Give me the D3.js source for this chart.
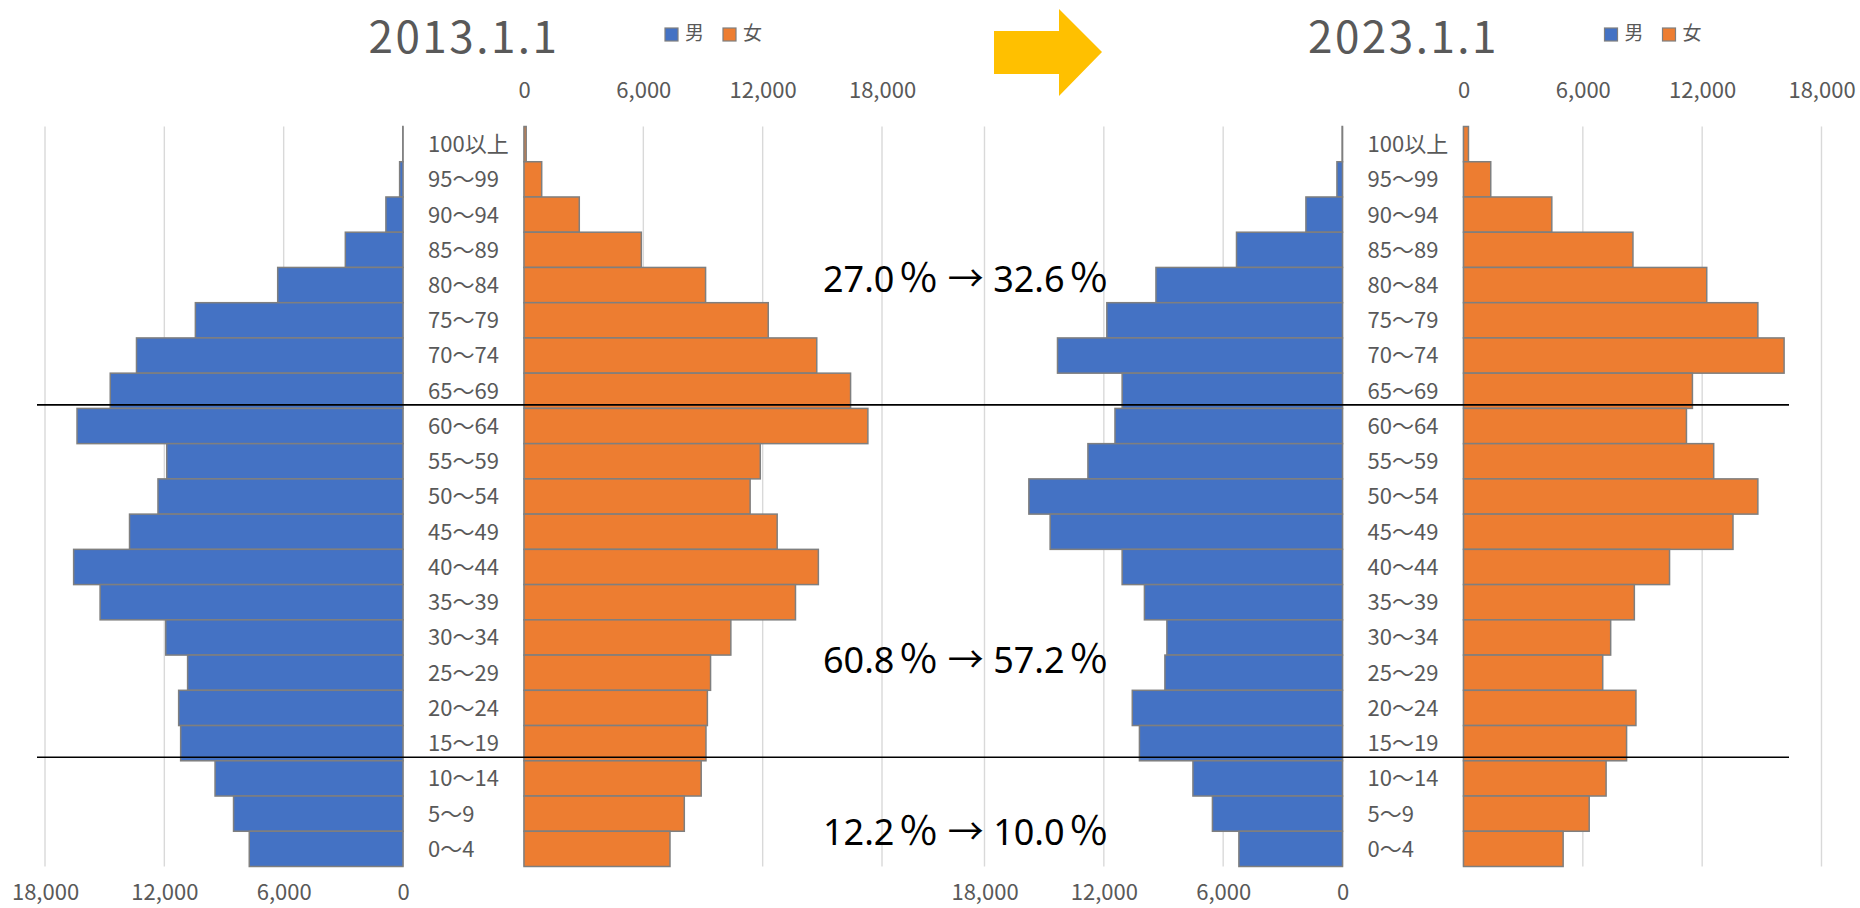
<!DOCTYPE html>
<html lang="ja">
<head>
<meta charset="utf-8">
<script src="https://cdn.jsdelivr.net/npm/d3@7/dist/d3.min.js"></script>
<style>
  html, body { margin: 0; padding: 0; background: #fff; }
  svg { display: block; }
</style>
</head>
<body>
<svg id="chart" width="1860" height="908"></svg>
<script>
// Age groups, oldest at the top
const ageGroups = ["100以上", "95～99", "90～94", "85～89", "80～84", "75～79", "70～74",
  "65～69", "60～64", "55～59", "50～54", "45～49", "40～44", "35～39", "30～34",
  "25～29", "20～24", "15～19", "10～14", "5～9", "0～4"];

// Population by age group (persons)
const male2013 = [10, 170, 860, 2900, 6300, 10440, 13400, 14720, 16390, 11880, 12320,
  13750, 16560, 15230, 11930, 10830, 11280, 11180, 9450, 8520, 7730];
const female2013 = [110, 890, 2780, 5900, 9130, 12280, 14720, 16420, 17290, 11880, 11370,
  12730, 14800, 13650, 10400, 9380, 9220, 9150, 8910, 8060, 7340];
const male2023 = [20, 280, 1840, 5330, 9380, 11850, 14330, 11080, 11440, 12800, 15770,
  14700, 11080, 9960, 8830, 8930, 10570, 10210, 7520, 6540, 5210];
const female2023 = [250, 1370, 4440, 8520, 12230, 14800, 16120, 11510, 11210, 12580, 14800,
  13550, 10360, 8590, 7400, 7000, 8670, 8200, 7170, 6320, 5010];

const tickValues = [0, 6000, 12000, 18000];
const panelTitles = ["2013.1.1", "2023.1.1"];
const legendLabels = ["男", "女"];
const shareLabels = ["27.0％ → 32.6％", "60.8％ → 57.2％", "12.2％ → 10.0％"];
// group boundaries: 65+ / 15–64 / 0–14 (drawn above the first group row below each)
const boundaryGroups = ["60～64", "10～14"];

const COLORS = { male: "#4472C4", female: "#ED7D31", edge: "#7F7F7F",
  grid: "#D9D9D9", axis: "#BFBFBF", text: "#595959", arrow: "#FFC000" };
const JP = "'Noto Sans CJK JP', 'Noto Sans', sans-serif";

const svg = d3.select("#chart");
svg.append("rect").attr("width", 1860).attr("height", 908).attr("fill", "#fff");

const y = d3.scaleBand().domain(ageGroups).range([126.5, 866.5]).padding(0);
const SPAN = 358;

function drawPanel(x0, title, male, female) {
  const maleZero = x0 + 403, femaleZero = x0 + 524;
  const xm = d3.scaleLinear().domain([0, 18000]).range([maleZero, maleZero - SPAN]);
  const xf = d3.scaleLinear().domain([0, 18000]).range([femaleZero, femaleZero + SPAN]);
  const g = svg.append("g");

  // vertical gridlines
  const [y0, y1] = y.range();
  g.selectAll(".gm").data(tickValues).join("line")
    .attr("x1", d => xm(d)).attr("x2", d => xm(d)).attr("y1", y0).attr("y2", y1)
    .attr("stroke", d => d === 0 ? COLORS.axis : COLORS.grid).attr("stroke-width", 1.4);
  g.selectAll(".gf").data(tickValues).join("line")
    .attr("x1", d => xf(d)).attr("x2", d => xf(d)).attr("y1", y0).attr("y2", y1)
    .attr("stroke", d => d === 0 ? COLORS.axis : COLORS.grid).attr("stroke-width", 1.4);

  // bars
  g.selectAll(".bm").data(ageGroups).join("rect")
    .attr("x", (d, i) => xm(male[i])).attr("y", d => y(d))
    .attr("width", (d, i) => xm(0) - xm(male[i])).attr("height", y.bandwidth())
    .attr("fill", COLORS.male).attr("stroke", COLORS.edge).attr("stroke-width", 1.5);
  g.selectAll(".bf").data(ageGroups).join("rect")
    .attr("x", xf(0)).attr("y", d => y(d))
    .attr("width", (d, i) => xf(female[i]) - xf(0)).attr("height", y.bandwidth())
    .attr("fill", COLORS.female).attr("stroke", COLORS.edge).attr("stroke-width", 1.5);

  // age labels
  g.selectAll(".lab").data(ageGroups).join("text")
    .attr("x", maleZero + 25).attr("y", d => y(d) + y.bandwidth() / 2)
    .attr("dy", "0.36em").attr("font-family", JP).attr("font-size", 22)
    .attr("fill", COLORS.text).text(d => d);

  // female axis on top, male axis at the bottom
  const fmt = d3.format(",");
  const top = g.append("g").attr("transform", "translate(0,98)")
    .call(d3.axisTop(xf).tickValues(tickValues).tickSize(0).tickFormat(fmt));
  const bot = g.append("g").attr("transform", "translate(0,900)")
    .call(d3.axisBottom(xm).tickValues(tickValues).tickSize(0).tickFormat(fmt));
  [top, bot].forEach(a => {
    a.select(".domain").remove();
    a.selectAll("text").attr("y", 0).attr("dy", null)
      .attr("font-family", JP).attr("font-size", 22).attr("fill", COLORS.text);
  });

  // title
  g.append("text").attr("x", x0 + 464).attr("y", 53).attr("text-anchor", "middle")
    .attr("font-family", JP).attr("font-size", 44).attr("letter-spacing", 2.5)
    .attr("fill", COLORS.text).text(title);

  // legend
  const lx = [x0 + 665, x0 + 723];
  const lc = [COLORS.male, COLORS.female];
  legendLabels.forEach((t, i) => {
    g.append("rect").attr("x", lx[i]).attr("y", 28).attr("width", 13).attr("height", 13)
      .attr("fill", lc[i]).attr("stroke", COLORS.edge).attr("stroke-width", 1.2);
    g.append("text").attr("x", lx[i] + 20).attr("y", 40)
      .attr("font-family", JP).attr("font-size", 19).attr("fill", COLORS.text).text(t);
  });
}

drawPanel(0, panelTitles[0], male2013, female2013);
drawPanel(939.5, panelTitles[1], male2023, female2023);

// group boundary lines across both pyramids
svg.selectAll(".bound").data(boundaryGroups).join("line")
  .attr("x1", 37).attr("x2", 1789)
  .attr("y1", d => y(d) - 3.5).attr("y2", d => y(d) - 3.5)
  .attr("stroke", "#000").attr("stroke-width", 1.6);

// arrow between the two dates
svg.append("polygon")
  .attr("points", [[994, 31], [1059, 31], [1059, 9], [1102, 52], [1059, 96], [1059, 74], [994, 74]].join(" "))
  .attr("fill", COLORS.arrow);

// share of each age group, 2013 → 2023; ％ and → set in the CJK face
const shareY = [292, 673, 845];
const shares = svg.selectAll(".share").data(shareLabels).join("text")
  .attr("x", 823).attr("y", (d, i) => shareY[i])
  .attr("font-family", "'Noto Sans', sans-serif")
  .attr("font-size", 36).attr("fill", "#000");
shares.each(function (d) {
  const t = d3.select(this);
  d.split(/(％|→)/).filter(s => s.length).forEach(part => {
    const sp = t.append("tspan").text(part);
    if (part === "％") sp.attr("font-family", "'Noto Sans CJK JP', sans-serif")
      .attr("font-size", 40).attr("dx", 4);
    if (part === "→") sp.attr("font-family", "'Noto Sans CJK JP', sans-serif");
  });
});
</script>
</body>
</html>
